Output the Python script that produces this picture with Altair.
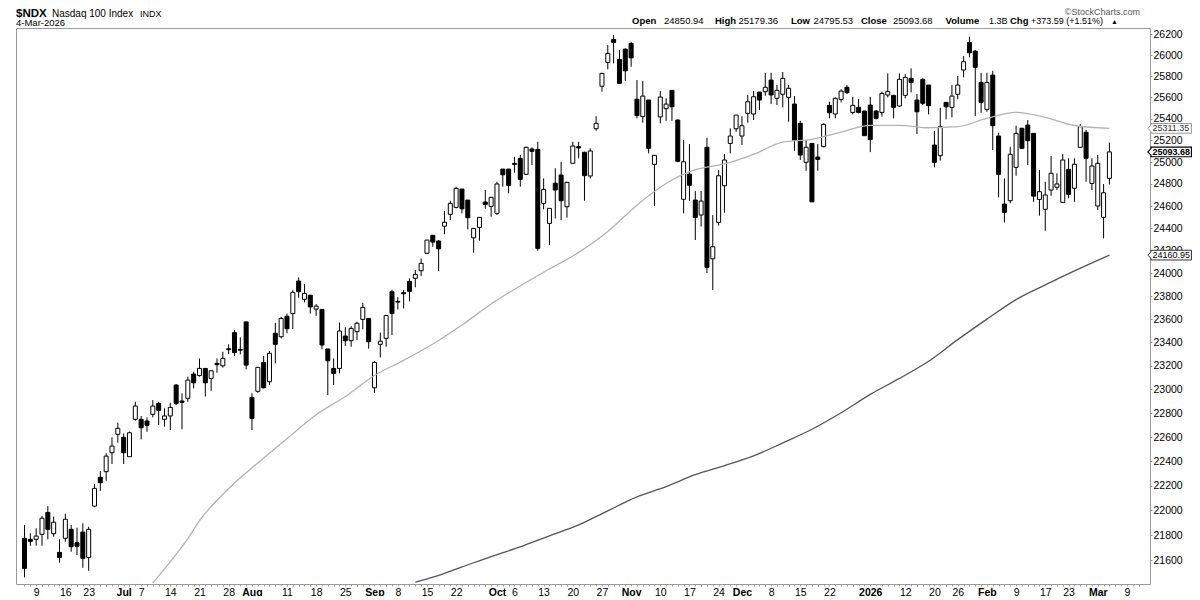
import json
import altair as alt
import pandas as pd

FONT = "Liberation Sans, Arial, Helvetica, sans-serif"

# ---- daily candles, trading-day index 0 = 5-Jun-2025 ... 186 = 4-Mar-2026 ----
opens = [21776, 21768, 21768, 21808, 21984, 21813, 21664, 21776, 21848, 21741,
         21826, 21624, 22035, 22269, 22315, 22471, 22623, 22598, 22438, 22748,
         22748, 22734, 22790, 22881, 22748, 22776, 23036, 22901, 22924, 23129,
         23116, 23177, 23092, 23220, 23199, 23345, 23484, 23340, 23576, 22932,
         22983, 23228, 23064, 23478, 23448, 23625, 23648, 23932, 23772, 23808,
         23687, 23684, 23343, 23177, 23177, 23454, 23414, 23492, 23598, 23606,
         23013, 23383, 23434, 23838, 23754, 23830, 23929, 23956, 24023, 24177,
         24337, 24286, 24419, 24525, 24588, 24754, 24654, 24315, 24408, 24636,
         24597, 24534, 24936, 24936, 24988, 25034, 24888, 25120, 25117, 24624,
         24444, 24807, 24882, 24594, 24989, 25142, 25090, 24873, 25308, 25706,
         25932, 26151, 25960, 26058, 26113, 25583, 25421, 25576, 24979, 25418,
         25495, 25667, 25389, 24661, 24890, 24654, 24519, 25136, 24128, 24453,
         24784, 25172, 25308, 25240, 25451, 25445, 25651, 25654, 25764, 25592,
         25630, 25601, 25538, 25358, 24998, 25172, 25046, 25142, 25526, 25445,
         25582, 25696, 25460, 25507, 25473, 25529, 25473, 25460, 25623, 25620,
         25520, 25620, 25780, 25576, 25771, 25717, 25157, 25059, 25554, 25507,
         25630, 25859, 26122, 26039, 25742, 25488, 25811, 25240, 24618, 24648,
         24952, 25312, 25342, 25265, 24660, 24570, 24745, 24770, 24633, 24933,
         24761, 25136, 25275, 24805, 24600, 24498, 24850.94]

highs = [21883, 21816, 21856, 21955, 22035, 21950, 21768, 21974, 21882, 21861,
         21896, 21869, 22214, 22320, 22466, 22598, 22720, 22631, 22645, 22895,
         22776, 22764, 22909, 22895, 22840, 22887, 23044, 22966, 23107, 23149,
         23262, 23177, 23157, 23262, 23319, 23383, 23506, 23443, 23576, 22966,
         23186, 23283, 23326, 23568, 23620, 23648, 23853, 23964, 23906, 23808,
         23731, 23684, 23343, 23262, 23571, 23529, 23540, 23578, 23742, 23606,
         23240, 23484, 23631, 23855, 23791, 23855, 23955, 24029, 24132, 24295,
         24337, 24295, 24555, 24648, 24775, 24754, 24654, 24399, 24498, 24745,
         24682, 24820, 24936, 24936, 25049, 25065, 25142, 25136, 25187, 24851,
         24579, 24943, 25003, 24820, 25187, 25187, 25096, 25127, 25424, 25833,
         26097, 26193, 26049, 26065, 26129, 25764, 25754, 25576, 25062, 25660,
         25592, 25667, 25395, 25203, 25166, 24736, 24736, 25224, 24519, 24927,
         25074, 25312, 25435, 25424, 25623, 25660, 25651, 25833, 25833, 25717,
         25840, 25717, 25613, 25382, 25203, 25172, 25166, 25358, 25560, 25601,
         25677, 25717, 25607, 25585, 25473, 25607, 25482, 25654, 25827, 25620,
         25827, 25820, 25875, 25632, 25780, 25717, 25287, 25503, 25554, 25717,
         25802, 25992, 26177, 26049, 25833, 25833, 25852, 25271, 24851, 25141,
         25336, 25317, 25389, 25265, 24927, 24820, 25056, 24897, 25074, 25035,
         25035, 25352, 25296, 25035, 25065, 24800, 25179.36]

lows = [21466, 21717, 21717, 21717, 21768, 21789, 21582, 21749, 21669, 21643,
        21542, 21518, 22025, 22159, 22241, 22378, 22554, 22378, 22438, 22736,
        22581, 22645, 22764, 22700, 22686, 22659, 22867, 22665, 22895, 23008,
        23107, 22940, 22988, 23140, 23184, 23300, 23283, 23297, 23169, 22659,
        22971, 23008, 23036, 23220, 23434, 23478, 23515, 23786, 23746, 23648,
        23629, 23340, 22952, 23036, 23135, 23368, 23362, 23420, 23512, 23346,
        22971, 23271, 23362, 23463, 23684, 23693, 23754, 23877, 23976, 24170,
        24235, 24018, 24346, 24474, 24579, 24534, 24390, 24182, 24289, 24576,
        24504, 24519, 24775, 24715, 24902, 24775, 24882, 24973, 24200, 24570,
        24250, 24489, 24474, 24495, 24989, 25034, 24648, 24851, 25289, 25654,
        25866, 25922, 25733, 25757, 25890, 25405, 25364, 25080, 24600, 25358,
        25382, 25382, 24998, 24534, 24648, 24295, 24416, 24003, 23853, 24424,
        24539, 25080, 25280, 25157, 25364, 25389, 25482, 25616, 25538, 25529,
        25507, 25373, 25104, 25019, 24920, 24638, 24920, 25136, 25405, 25405,
        25554, 25632, 25442, 25451, 25243, 25092, 25395, 25421, 25601, 25405,
        25513, 25592, 25648, 25259, 25529, 25442, 24952, 25013, 25395, 25414,
        25583, 25790, 25980, 25426, 25457, 25466, 25111, 24679, 24453, 24624,
        24875, 25120, 24973, 24638, 24513, 24378, 24693, 24745, 24633, 24670,
        24638, 25136, 24820, 24745, 24564, 24310, 24795.53]

closes = [21537, 21752, 21794, 21937, 21848, 21905, 21624, 21929, 21709, 21712,
          21616, 21848, 22179, 22225, 22443, 22526, 22673, 22471, 22636, 22859,
          22678, 22698, 22859, 22823, 22776, 22848, 22881, 22890, 23078, 23055,
          23177, 23055, 23157, 23209, 23262, 23337, 23312, 23332, 23205, 22756,
          23186, 23013, 23306, 23383, 23606, 23517, 23832, 23839, 23824, 23706,
          23713, 23377, 23242, 23135, 23497, 23414, 23520, 23564, 23702, 23405,
          23228, 23409, 23631, 23648, 23748, 23821, 23842, 23991, 24088, 24295,
          24277, 24217, 24454, 24624, 24760, 24575, 24495, 24399, 24498, 24615,
          24679, 24800, 24884, 24787, 24979, 24842, 25136, 25099, 24221, 24751,
          24579, 24745, 24648, 24815, 25148, 25130, 24876, 25102, 25358, 25827,
          26017, 26122, 25733, 25852, 25975, 25430, 25613, 25127, 25062, 25604,
          25538, 25513, 25007, 25003, 24788, 24498, 24645, 24053, 24235, 24875,
          25019, 25240, 25435, 25336, 25560, 25607, 25576, 25696, 25623, 25667,
          25780, 25686, 25203, 25065, 25136, 24638, 25025, 25349, 25457, 25592,
          25660, 25645, 25526, 25460, 25243, 25208, 25405, 25638, 25657, 25507,
          25771, 25789, 25742, 25466, 25545, 25523, 24998, 25327, 25513, 25613,
          25717, 25938, 26023, 25885, 25554, 25742, 25336, 24888, 24543, 25071,
          25265, 25127, 25197, 24690, 24730, 24700, 24897, 24800, 25019, 24706,
          24980, 25327, 25035, 24964, 24989, 24720, 25093.68]

# ---- moving averages (trading-day index -> value) ----
ma50_idx = [22, 25, 28, 30, 33, 36, 40, 45, 50, 55, 60, 65, 70, 75, 80, 85, 90, 95,
            100, 105, 110, 115, 120, 125, 130, 135, 140, 145, 150, 155, 160, 165,
            170, 175, 180, 186]
ma50_val = [21422, 21590, 21773, 21918, 22082, 22223, 22387, 22587, 22786, 22940,
            23117, 23246, 23385, 23549, 23731, 23890, 24038, 24185, 24371, 24608,
            24804, 24930, 24983, 25071, 25183, 25210, 25277, 25340, 25340, 25317,
            25327, 25404, 25460, 25414, 25338, 25311.35]

ma200_idx = [67, 70, 75, 80, 85, 90, 95, 100, 105, 110, 115, 120, 125, 130, 135,
             140, 145, 150, 155, 160, 165, 170, 175, 180, 186]
ma200_val = [21429, 21468, 21549, 21631, 21708, 21796, 21883, 21997, 22110, 22193,
             22291, 22365, 22445, 22552, 22665, 22803, 22957, 23092, 23238, 23423,
             23600, 23770, 23898, 24021, 24160.95]

# ---- axis labels ----
tick_idx = [2, 7, 11, 17, 20, 25, 30, 35, 39, 45, 50, 55, 60, 64, 69, 74, 81, 84, 89,
            94, 99, 104, 109, 114, 119, 123, 128, 133, 138, 145, 151, 156, 160, 165,
            170, 175, 179, 184, 189]
tick_text = ["9", "16", "23", "Jul", "7", "14", "21", "28", "Aug", "11", "18", "25",
             "Sep", "8", "15", "22", "Oct", "6", "13", "20", "27", "Nov", "10", "17",
             "24", "Dec", "8", "15", "22", "2026", "12", "20", "26", "Feb", "9", "17",
             "23", "Mar", "9"]
bold_idx = [17, 39, 60, 81, 104, 123, 145, 165, 184]
price_ticks = list(range(21600, 26201, 200))

volume_text = "1.3B"
chg_text = "+373.59 (+1.51%)"

W, H = 1134, 556

df = pd.DataFrame({"i": list(range(len(opens))), "open": opens, "high": highs,
                   "low": lows, "close": closes})

xscale = alt.Scale(domain=[-0.6, 192.1], nice=False, zero=False)
yscale = alt.Scale(type="log", domain=[21414, 26261], nice=False, zero=False)

lab_expr = f"{json.dumps(tick_text)}[indexof({json.dumps(tick_idx)}, datum.value)] || ''"
xaxis = alt.Axis(values=list(range(0, 192)), labelExpr=lab_expr,
                 labelFontWeight={"condition": {"test": f"indexof({json.dumps(bold_idx)}, datum.value) >= 0",
                                                "value": "bold"}, "value": "normal"},
                 tickSize=2, tickColor="#a0a0a0", domain=False, grid=False,
                 labelFontSize=10.5, labelFont=FONT, labelColor="black", labelPadding=1,
                 labelOverlap=False, labelFlush=False, labelAngle=0, title=None)
yaxis = alt.Axis(orient="right", values=price_ticks, format="d", tickSize=2,
                 tickColor="#a0a0a0", domain=False, grid=False, labelFontSize=10.5,
                 labelFont=FONT, labelColor="black", labelPadding=1, labelOverlap=False,
                 labelFlush=False, labelAlign="left", labelBaseline="middle", title=None)

X = alt.X("i:Q", scale=xscale, axis=xaxis)

wicks = alt.Chart(df).mark_rule(color="black", strokeWidth=1, clip=True).encode(
    x=X, y=alt.Y("low:Q", scale=yscale, axis=yaxis), y2="high:Q")

bodies = alt.Chart(df).mark_bar(size=4, stroke="black", strokeWidth=1, clip=True).encode(
    x=X, y=alt.Y("open:Q", scale=yscale, axis=yaxis), y2="close:Q",
    fill=alt.condition("datum.close >= datum.open", alt.value("white"), alt.value("black")))

ma50 = alt.Chart(pd.DataFrame({"i": ma50_idx, "v": ma50_val})).mark_line(
    color="#b3b3b3", strokeWidth=1.3, clip=True, interpolate="monotone").encode(
    x=X, y=alt.Y("v:Q", scale=yscale, axis=yaxis))

ma200 = alt.Chart(pd.DataFrame({"i": ma200_idx, "v": ma200_val})).mark_line(
    color="#555555", strokeWidth=1.3, clip=True, interpolate="monotone").encode(
    x=X, y=alt.Y("v:Q", scale=yscale, axis=yaxis))

# value tag: arrow tip near the axis, box to the right (unit = 22 px)
BOX = "M -0.91 -0.22 L 0.93 -0.22 L 0.93 0.22 L -0.91 0.22 L -0.91 0.15 L -1.05 0 L -0.91 -0.15 Z"


def value_box(v, stroke, text_color, weight, sw):
    d = pd.DataFrame({"v": [v], "label": [f"{v:.2f}"]})
    box = alt.Chart(d).mark_point(shape=BOX, size=1936, filled=True, fill="white",
                                  stroke=stroke, strokeWidth=sw, opacity=1).encode(
        x=alt.value(W + 21), y=alt.Y("v:Q", scale=yscale, axis=yaxis))
    lab = alt.Chart(d).mark_text(align="left", baseline="middle", fontSize=9, font=FONT,
                                 fontWeight=weight, color=text_color).encode(
        x=alt.value(W + 2.5), y=alt.Y("v:Q", scale=yscale, axis=yaxis), text="label:N")
    return [box, lab]


def txt(s, px, py, size=10, weight="normal", align="left", color="black"):
    return alt.Chart(pd.DataFrame({"t": [s]})).mark_text(
        align=align, baseline="alphabetic", fontSize=size, fontWeight=weight, font=FONT,
        color=color).encode(text="t:N", x=alt.value(px), y=alt.value(py))


layers = [wicks, bodies, ma50, ma200]
layers += value_box(ma50_val[-1], "#9a9a9a", "#333333", "normal", 1)
layers += value_box(closes[-1], "black", "black", "bold", 1.2)
layers += value_box(ma200_val[-1], "#333333", "black", "normal", 1)

hy = -4
layers += [
    txt("$NDX", 0, -11.5, 11.5, "bold"),
    txt("Nasdaq 100 Index", 36, -11.5, 10),
    txt("INDX", 124, -11.5, 9),
    txt("4-Mar-2026", 0, -2, 9.5),
    txt("\u00a9StockCharts.com", W - 10, -13.5, 9, align="right", color="#555555"),
    txt("Open", 616, hy, 9.5, "bold"),
    txt(f"{opens[-1]:.2f}", 648, hy, 9.5),
    txt("High", 699, hy, 9.5, "bold"),
    txt(f"{highs[-1]:.2f}", 722.5, hy, 9.5),
    txt("Low", 775, hy, 9.5, "bold"),
    txt(f"{lows[-1]:.2f}", 797.5, hy, 9.5),
    txt("Close", 845, hy, 9.5, "bold"),
    txt(f"{closes[-1]:.2f}", 877, hy, 9.5),
    txt("Volume", 929.6, hy, 9.5, "bold"),
    txt(volume_text, 973, hy, 9),
    txt("Chg", 994, hy, 9.5, "bold"),
    txt(chg_text, 1015, hy, 9),
    txt("\u25b2", 1095, hy, 7),
]

chart = alt.layer(*layers).properties(
    width=W, height=H,
    padding={"left": 8, "top": 20, "right": 42, "bottom": 12},
    autosize=alt.AutoSizeParams(type="none"),
    background="white",
).configure_view(stroke="#9a9a9a", strokeWidth=1)

chart.save("out.html", embed_options={"renderer": "svg", "actions": False})
